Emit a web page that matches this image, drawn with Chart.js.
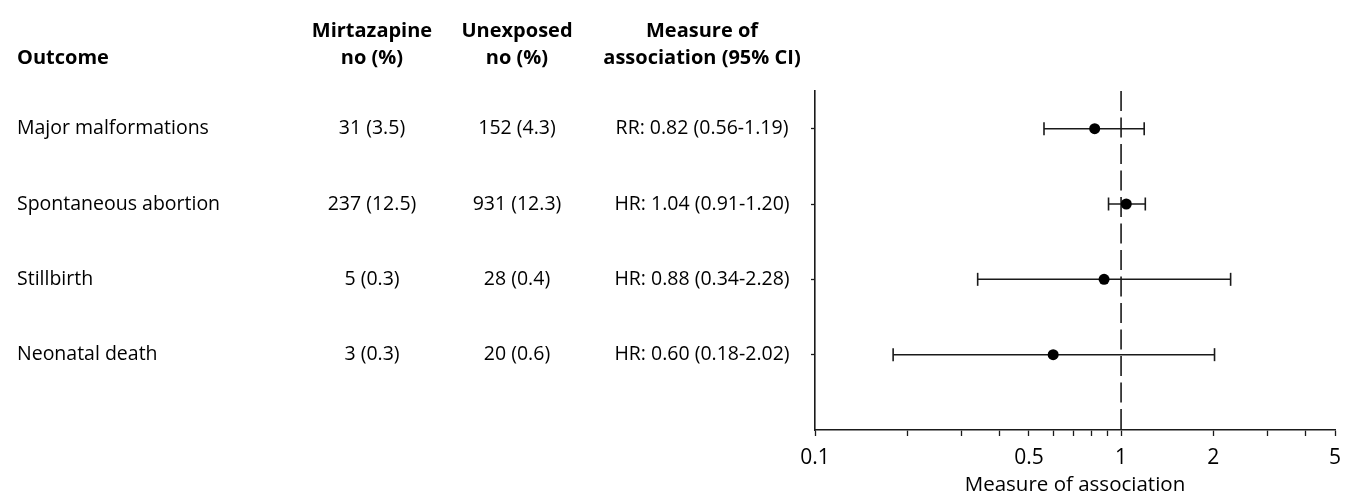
<!DOCTYPE html>
<html>
<head>
<meta charset="utf-8">
<script src="https://cdn.jsdelivr.net/npm/chart.js@4.4.1/dist/chart.umd.min.js"></script>
<style>
  html, body { margin: 0; padding: 0; background: #fff; }
  #wrap { width: 1346px; height: 495px; position: relative; }
</style>
</head>
<body>
<div id="wrap"><canvas id="c" width="1346" height="495"></canvas></div>
<script>
const outcomes = ['Major malformations', 'Spontaneous abortion', 'Stillbirth', 'Neonatal death'];
const mirtazapineCounts = ['31 (3.5)', '237 (12.5)', '5 (0.3)', '3 (0.3)'];
const unexposedCounts = ['152 (4.3)', '931 (12.3)', '28 (0.4)', '20 (0.6)'];
const measureTypes = ['RR', 'HR', 'HR', 'HR'];
const estimates = [0.82, 1.04, 0.88, 0.60];
const lowerCI = [0.56, 0.91, 0.34, 0.18];
const upperCI = [1.19, 1.20, 2.28, 2.02];
const rowValues = [4, 3, 2, 1];
const xTickValues = [0.1, 0.2, 0.3, 0.4, 0.5, 0.6, 0.7, 0.8, 0.9, 1, 2, 3, 4, 5];
const xTickLabels = [0.1, 0.5, 1, 2, 5];
const headers = [['Mirtazapine', 'no (%)'], ['Unexposed', 'no (%)'], ['Measure of', 'association (95% CI)']];

const FONT = "'Open Sans', sans-serif";
const INK = '#000';
const LINE = '#1a1a1a';

const ciDatasets = outcomes.map((o, i) => ({
  type: 'line',
  label: o + ' CI',
  data: [{x: lowerCI[i], y: rowValues[i]}, {x: upperCI[i], y: rowValues[i]}],
  borderColor: LINE,
  borderWidth: 1.5,
  pointStyle: 'line',
  pointRotation: 90,
  pointRadius: 6.5,
  pointBorderWidth: 1.6,
  pointBorderColor: LINE,
  pointBackgroundColor: LINE,
  fill: false,
  order: 2
}));

const tablePlugin = {
  id: 'table',
  afterDraw(chart) {
    const ctx = chart.ctx;
    const y = chart.scales.y;
    ctx.save();
    ctx.fillStyle = INK;
    ctx.textBaseline = 'middle';
    const cols = [372, 517, 702];
    ctx.font = "bold 20px " + FONT;
    ctx.textAlign = 'left';
    ctx.fillText('Outcome', 17, 58);
    ctx.textAlign = 'center';
    headers.forEach((h, j) => {
      ctx.fillText(h[0], cols[j], 31);
      ctx.fillText(h[1], cols[j], 58);
    });
    ctx.font = "19.5px " + FONT;
    outcomes.forEach((o, i) => {
      const py = y.getPixelForValue(rowValues[i]);
      ctx.textAlign = 'left';
      ctx.fillText(o, 17, py);
      ctx.textAlign = 'center';
      ctx.fillText(mirtazapineCounts[i], cols[0], py);
      ctx.fillText(unexposedCounts[i], cols[1], py);
      const txt = measureTypes[i] + ': ' + estimates[i].toFixed(2) + ' (' + lowerCI[i].toFixed(2) + '-' + upperCI[i].toFixed(2) + ')';
      ctx.fillText(txt, cols[2], py);
    });
    ctx.restore();
  }
};

new Chart(document.getElementById('c'), {
  type: 'scatter',
  data: {
    datasets: [
      {
        type: 'line',
        label: 'Null',
        data: [{x: 1, y: 4.5}, {x: 1, y: 0}],
        borderColor: LINE,
        borderWidth: 1.6,
        borderDash: [20, 6.5],
        pointRadius: 0,
        fill: false,
        order: 3
      },
      ...ciDatasets,
      {
        type: 'scatter',
        label: 'Estimate',
        data: estimates.map((e, i) => ({x: e, y: rowValues[i]})),
        pointRadius: 5.5,
        pointBackgroundColor: '#000',
        pointBorderColor: '#000',
        pointBorderWidth: 0,
        order: 1
      }
    ]
  },
  options: {
    responsive: false,
    animation: false,
    layout: { padding: { left: 811, top: 91, right: 11, bottom: 0 } },
    plugins: { legend: { display: false }, tooltip: { enabled: false } },
    scales: {
      x: {
        type: 'logarithmic',
        min: 0.1,
        max: 5,
        afterBuildTicks(scale) { scale.ticks = xTickValues.map(v => ({value: v})); },
        afterFit(scale) { scale.paddingRight = 0; scale.paddingLeft = 0; },
        ticks: {
          autoSkip: false,
          maxRotation: 0,
          padding: 9.4,
          color: INK,
          font: { family: FONT, size: 21 },
          callback(v) { return xTickLabels.includes(v) ? String(v) : ''; }
        },
        grid: { drawOnChartArea: false, drawTicks: true, tickLength: 6, tickWidth: 1.3, color: LINE },
        border: { display: true, color: LINE, width: 1.6 },
        title: { display: true, text: 'Measure of association', color: INK, font: { family: FONT, size: 20.5, lineHeight: 1.0 }, padding: { top: -5.5, bottom: 0 } }
      },
      y: {
        type: 'linear',
        min: 0,
        max: 4.5,
        afterBuildTicks(scale) { scale.ticks = rowValues.map(v => ({value: v})); },
        ticks: { display: false },
        grid: { drawOnChartArea: false, drawTicks: true, tickLength: 4, tickWidth: 1.3, color: LINE },
        border: { display: true, color: LINE, width: 1.6 }
      }
    }
  },
  plugins: [tablePlugin]
});
</script>
</body>
</html>
